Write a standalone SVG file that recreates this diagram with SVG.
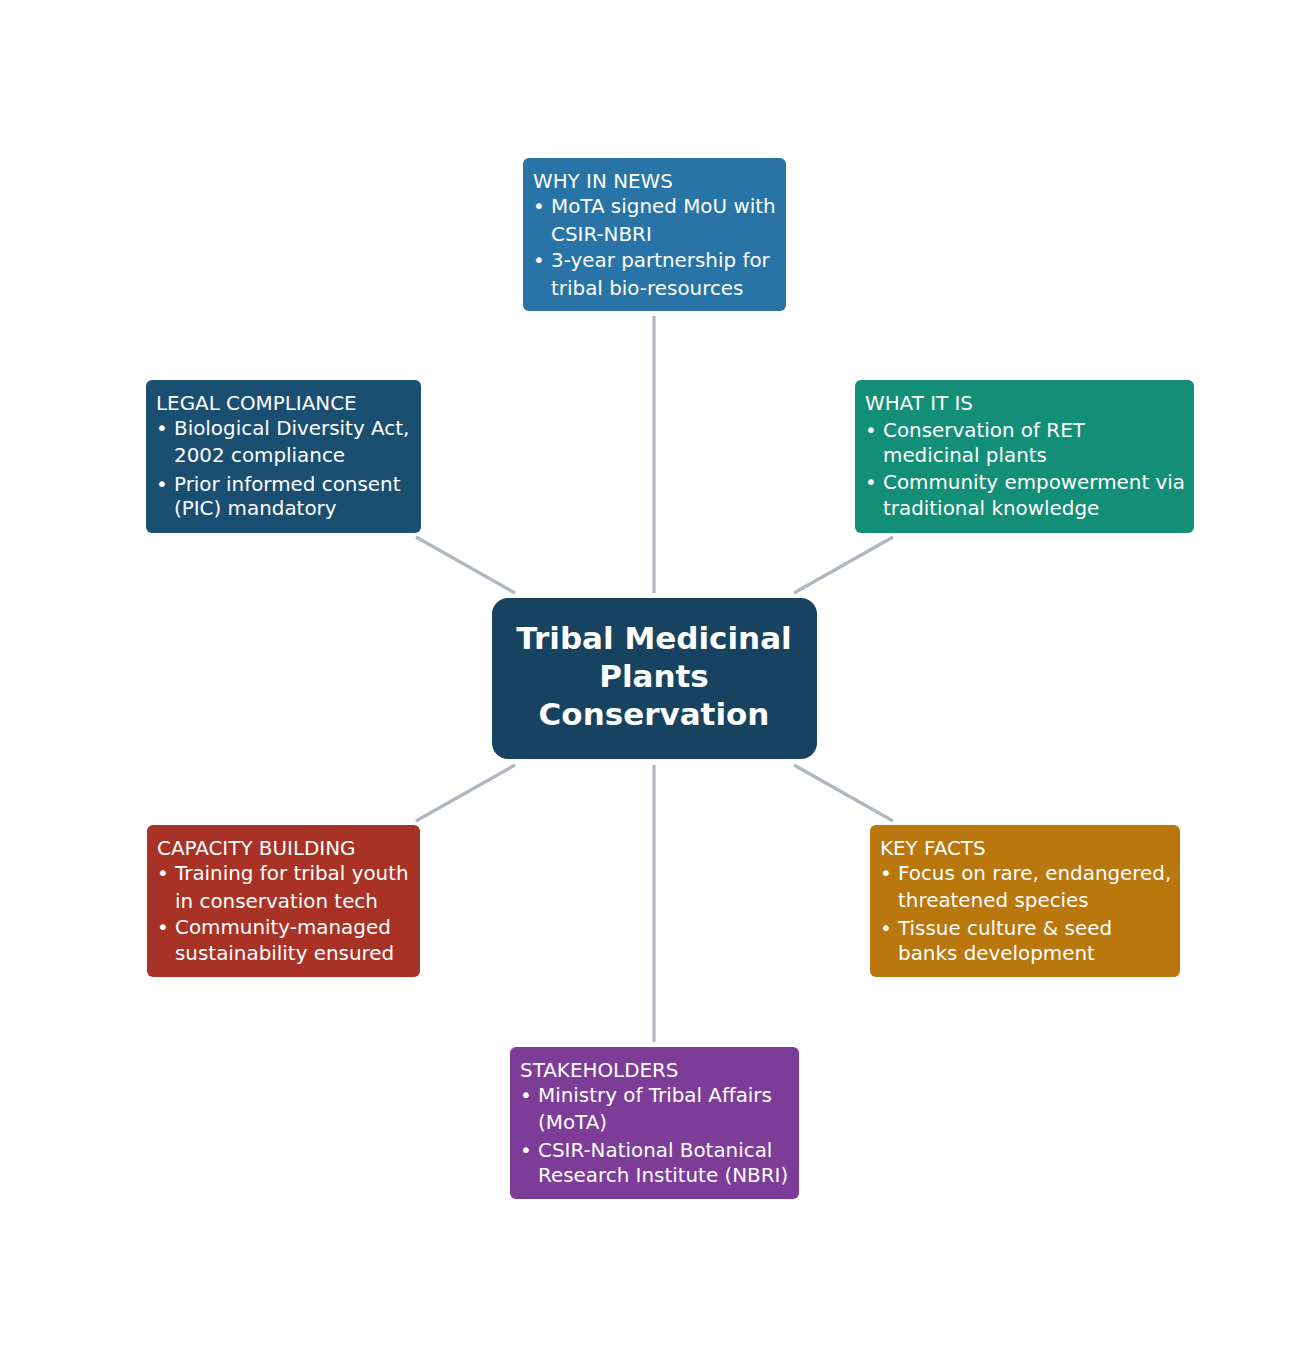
<svg xmlns="http://www.w3.org/2000/svg" width="1308" height="1358" viewBox="0 0 1308 1358">
<style>
.t{font-family:"DejaVu Sans",Verdana,sans-serif;font-size:19.9px;fill:#ffffff}
.c{font-family:"DejaVu Sans",Verdana,sans-serif;font-size:31px;font-weight:bold;fill:#ffffff;text-anchor:middle}
.e{stroke:#b0b7c1;stroke-width:3.2;fill:none}
</style>
<rect width="1308" height="1358" fill="#ffffff"/>
<g id="connectors">
<line class="e" x1="654" y1="316" x2="654" y2="593"/>
<line class="e" x1="416" y1="537" x2="515" y2="593"/>
<line class="e" x1="893" y1="537" x2="794" y2="593"/>
<line class="e" x1="416" y1="821" x2="515" y2="765"/>
<line class="e" x1="893" y1="821" x2="794" y2="765"/>
<line class="e" x1="654" y1="765" x2="654" y2="1042"/>
</g>
<g id="center">
<rect x="492" y="598" width="325" height="161" rx="16" fill="#174360"/>
<text class="c" x="654" y="649">Tribal Medicinal</text>
<text class="c" x="654" y="687">Plants</text>
<text class="c" x="654" y="725">Conservation</text>
</g>
<g id="why">
<rect x="523" y="158" width="263" height="153" rx="6" fill="#2874a6"/>
<text class="t" x="533" y="188">WHY IN NEWS</text>
<text class="t" x="533" y="213">•</text><text class="t" x="551" y="213">MoTA signed MoU with</text>
<text class="t" x="551" y="241">CSIR-NBRI</text>
<text class="t" x="533" y="267">•</text><text class="t" x="551" y="267">3-year partnership for</text>
<text class="t" x="551" y="295">tribal bio-resources</text>
</g>
<g id="legal">
<rect x="146" y="380" width="275" height="153" rx="6" fill="#1b4f72"/>
<text class="t" x="156" y="410">LEGAL COMPLIANCE</text>
<text class="t" x="156" y="435">•</text><text class="t" x="174" y="435">Biological Diversity Act,</text>
<text class="t" x="174" y="462">2002 compliance</text>
<text class="t" x="156" y="491">•</text><text class="t" x="174" y="491">Prior informed consent</text>
<text class="t" x="174" y="515">(PIC) mandatory</text>
</g>
<g id="what">
<rect x="855" y="380" width="339" height="153" rx="6" fill="#148f77"/>
<text class="t" x="865" y="410">WHAT IT IS</text>
<text class="t" x="865" y="437">•</text><text class="t" x="883" y="437">Conservation of RET</text>
<text class="t" x="883" y="462">medicinal plants</text>
<text class="t" x="865" y="489">•</text><text class="t" x="883" y="489">Community empowerment via</text>
<text class="t" x="883" y="515">traditional knowledge</text>
</g>
<g id="capacity">
<rect x="147" y="825" width="273" height="152" rx="6" fill="#a93226"/>
<text class="t" x="157" y="855">CAPACITY BUILDING</text>
<text class="t" x="157" y="880">•</text><text class="t" x="175" y="880">Training for tribal youth</text>
<text class="t" x="175" y="908">in conservation tech</text>
<text class="t" x="157" y="934">•</text><text class="t" x="175" y="934">Community-managed</text>
<text class="t" x="175" y="960">sustainability ensured</text>
</g>
<g id="keyfacts">
<rect x="870" y="825" width="310" height="152" rx="6" fill="#b9770e"/>
<text class="t" x="880" y="855">KEY FACTS</text>
<text class="t" x="880" y="880">•</text><text class="t" x="898" y="880">Focus on rare, endangered,</text>
<text class="t" x="898" y="907">threatened species</text>
<text class="t" x="880" y="935">•</text><text class="t" x="898" y="935">Tissue culture &amp; seed</text>
<text class="t" x="898" y="960">banks development</text>
</g>
<g id="stakeholders">
<rect x="510" y="1047" width="289" height="152" rx="6" fill="#7d3c98"/>
<text class="t" x="520" y="1077">STAKEHOLDERS</text>
<text class="t" x="520" y="1102">•</text><text class="t" x="538" y="1102">Ministry of Tribal Affairs</text>
<text class="t" x="538" y="1129">(MoTA)</text>
<text class="t" x="520" y="1157">•</text><text class="t" x="538" y="1157">CSIR-National Botanical</text>
<text class="t" x="538" y="1182">Research Institute (NBRI)</text>
</g>
</svg>
